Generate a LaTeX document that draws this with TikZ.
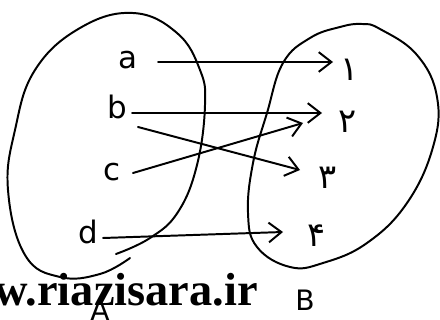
\documentclass[tikz,border=0pt]{standalone}
\usepackage{fontspec}
\newfontfamily\arabicfont[Script=Arabic]{DejaVu Sans}
\newfontfamily\handfont{DejaVu Sans}
\newfontfamily\wmfont{Liberation Serif}
\usetikzlibrary{arrows.meta,calc}
\begin{document}
\begin{tikzpicture}[x=0.025cm,y=-0.025cm,
 hand/.style={line width=1.4pt, line cap=round, line join=round},
 arr/.style={hand, -{Straight Barb[length=9pt,width=14pt,line width=1.4pt]}},
 lbl/.style={font=\handfont\fontsize{22}{22}\selectfont, inner sep=0pt},
 num/.style={font=\arabicfont\fontsize{24}{24}\selectfont, inner sep=0pt},
 setlbl/.style={font=\handfont\fontsize{20}{20}\selectfont, inner sep=0pt},
 wm/.style={font=\wmfont\bfseries\fontsize{33}{33}\selectfont, inner sep=0pt, anchor=base east}]
\useasboundingbox (0,0) rectangle (440,320);
\fill[white] (0,0) rectangle (440,320);
% set A
\draw[hand] plot[smooth, tension=0.7] coordinates {(130,258) (100,274) (60,277) (25,255) (8,190) (15,130) (35,70) (80,28) (133,13) (177,33) (200,70) (205,105) (197,165) (178,212) (150,238) (116,254)};
% set B
\draw[hand] plot[smooth cycle, tension=0.7] coordinates {(362,24) (380,29) (417,55) (437,97) (433,147) (407,203) (367,243) (323,263) (290,267) (257,247) (248,213) (253,163) (267,113) (283,63) (310,38) (340,27)};
% elements
\node[lbl] (a) at (128,60) {a};
\node[lbl] (b) at (117,107) {b};
\node[lbl] (c) at (112,172) {c};
\node[lbl] (d) at (88,232) {d};
\node[num] (n1) at (350,70) {۱};
\node[num] (n2) at (348,122) {۲};
\node[num] (n3) at (328,178) {۳};
\node[num] (n4) at (317,236) {۴};
\node[setlbl] (A) at (100,310) {A};
\node[setlbl] (B) at (305,300) {B};
% arrows
\draw[arr] ($(a)+(30,2)$) -- ($(n1)+(-17,-8)$);
\draw[arr] ($(b)+(15,6)$) -- ($(n2)+(-26,-9)$);
\draw[arr] ($(b)+(21,20)$) -- ($(n3)+(-28,-8)$);
\draw[arr] ($(c)+(21,1)$) -- ($(n2)+(-45,1)$);
\draw[arr] ($(d)+(15,6)$) -- ($(n4)+(-34,-4)$);
% watermark
\node[wm] (wm) at (258,305) {www.riazisara.ir};
\end{tikzpicture}
\end{document}
